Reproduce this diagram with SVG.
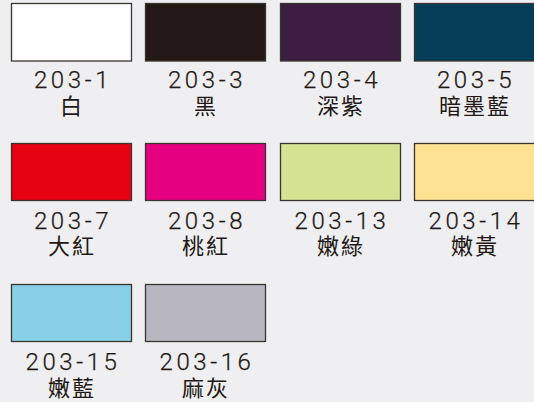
<svg xmlns="http://www.w3.org/2000/svg" width="534" height="402" viewBox="0 0 534 402">
<style>
.sw{stroke:#3a3431;stroke-width:1.3}
.code{font-family:Roboto,"Liberation Sans",Arial,sans-serif;font-weight:300;font-size:24px;fill:#231815;text-anchor:middle;letter-spacing:3.6px;stroke:#231815;stroke-width:0.25}
.name{font-family:"Noto Sans CJK TC","Noto Sans CJK JP",sans-serif;font-weight:400;font-size:22px;fill:#231815;text-anchor:middle;letter-spacing:2px}
</style>
<rect width="534" height="402" fill="#efeff1"/>
<g id="c203-1"><rect class="sw" x="11.5" y="3.5" width="120" height="57.5" fill="#ffffff"/><text class="code" x="73" y="88">203-1</text><text class="name" x="72" y="114">白</text></g>
<g id="c203-3"><rect class="sw" x="145.5" y="3.5" width="120" height="57.5" fill="#231815"/><text class="code" x="207" y="88">203-3</text><text class="name" x="206" y="114">黑</text></g>
<g id="c203-4"><rect class="sw" x="280.5" y="3.5" width="120" height="57.5" fill="#3b1e40"/><text class="code" x="342" y="88">203-4</text><text class="name" x="341" y="114">深紫</text></g>
<g id="c203-5"><rect class="sw" x="414.5" y="3.5" width="122" height="57.5" fill="#073e57"/><text class="code" x="476" y="88">203-5</text><text class="name" x="475" y="114">暗墨藍</text></g>
<g id="c203-7"><rect class="sw" x="11.5" y="143.5" width="120" height="57" fill="#e50012"/><text class="code" x="73" y="229">203-7</text><text class="name" x="72" y="254">大紅</text></g>
<g id="c203-8"><rect class="sw" x="145.5" y="143.5" width="120" height="57" fill="#e4007f"/><text class="code" x="207" y="229">203-8</text><text class="name" x="206" y="254">桃紅</text></g>
<g id="c203-13"><rect class="sw" x="280.5" y="143.5" width="120" height="57" fill="#d5e292"/><text class="code" x="342" y="229">203-13</text><text class="name" x="341" y="254">嫩綠</text></g>
<g id="c203-14"><rect class="sw" x="414.5" y="143.5" width="122" height="57" fill="#fee395"/><text class="code" x="476" y="229">203-14</text><text class="name" x="475" y="254">嫩黃</text></g>
<g id="c203-15"><rect class="sw" x="11.5" y="284.5" width="120" height="57" fill="#88d0e7"/><text class="code" x="73" y="370">203-15</text><text class="name" x="72" y="396">嫩藍</text></g>
<g id="c203-16"><rect class="sw" x="145.5" y="284.5" width="120" height="57" fill="#b8b7c1"/><text class="code" x="207" y="370">203-16</text><text class="name" x="206" y="396">麻灰</text></g>
</svg>
